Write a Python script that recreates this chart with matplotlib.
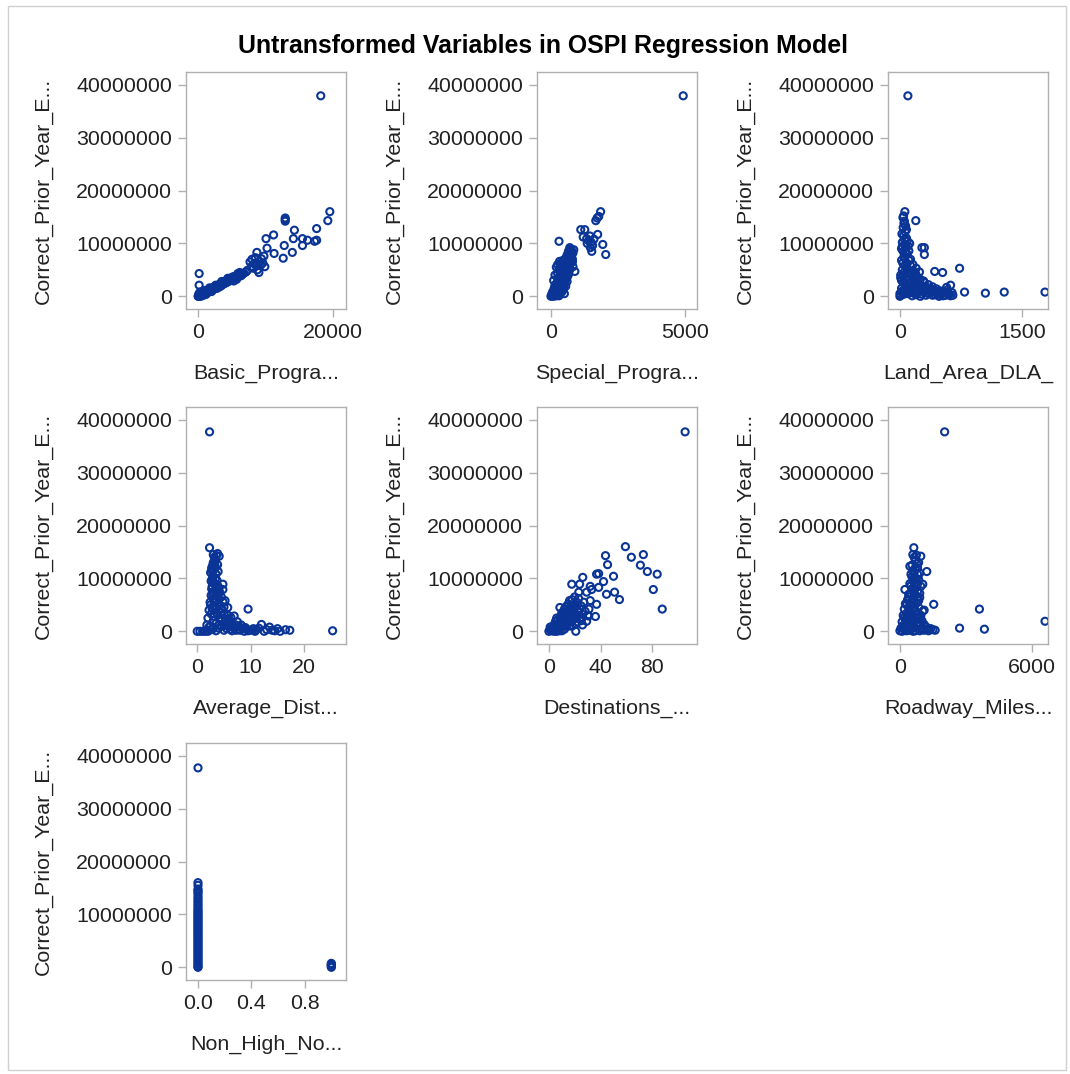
import matplotlib.pyplot as plt
from matplotlib.patches import Rectangle

plt.rcParams['font.family'] = ['Liberation Sans', 'DejaVu Sans']

# (x, y) pairs per predictor; y is Correct_Prior_Year_E... for every panel
basic_pts = [
    (18200, 37.9e6),
    (19550, 16.0e6), (19250, 14.3e6), (17590, 12.8e6), (17590, 10.6e6), (17290, 10.4e6),
    (12930, 14.8e6), (12930, 14.5e6), (12930, 14.2e6), (14290, 12.5e6), (14140, 10.9e6),
    (15490, 10.9e6), (16240, 10.6e6), (15490, 9.6e6), (12780, 9.6e6), (13980, 8.3e6),
    (12630, 7.2e6), (11200, 11.6e6), (10080, 10.9e6), (10230, 9.1e6), (11280, 8.1e6),
    (8720, 8.3e6), (9770, 7.6e6), (9400, 7.1e6), (8500, 7.3e6), (8000, 7.0e6),
    (7700, 6.5e6), (8300, 6.2e6), (9000, 6.6e6), (9600, 6.3e6), (8600, 5.8e6),
    (9300, 5.9e6), (9900, 5.6e6), (7900, 5.6e6), (8200, 5.3e6), (8800, 5.0e6),
    (9020, 4.5e6), (6170, 4.5e6), (5710, 3.8e6), (6600, 4.2e6), (6400, 3.9e6),
    (5900, 4.3e6), (150, 4.3e6), (150, 2.1e6),
    (0, 0.0), (60, 0.15e6), (120, 0.05e6), (180, 0.3e6), (250, 0.1e6), (320, 0.45e6),
    (400, 0.2e6), (480, 0.6e6), (560, 0.35e6), (650, 0.7e6), (750, 0.45e6), (850, 0.85e6),
    (950, 0.6e6), (1050, 1.0e6), (1150, 0.75e6), (1300, 1.1e6), (1400, 0.9e6), (1550, 1.25e6),
    (1650, 1.05e6), (1800, 1.4e6), (1950, 1.2e6), (2100, 1.6e6), (2250, 1.35e6), (2400, 1.75e6),
    (2550, 1.55e6), (2700, 1.95e6), (2850, 1.7e6), (3000, 2.15e6), (3150, 1.9e6), (3300, 2.35e6),
    (3450, 2.1e6), (3600, 2.55e6), (3750, 2.3e6), (3900, 2.75e6), (4050, 2.5e6), (4200, 2.95e6),
    (4350, 2.7e6), (4500, 3.15e6), (4650, 2.9e6), (4800, 3.35e6), (4950, 3.1e6), (5100, 3.5e6),
    (5250, 3.3e6), (5400, 3.65e6), (5550, 3.4e6), (5700, 3.2e6), (5300, 2.9e6), (4400, 3.4e6),
    (3500, 2.8e6), (2600, 2.1e6), (1700, 1.6e6), (900, 1.1e6), (300, 0.8e6), (700, 0.2e6),
    (1200, 0.4e6), (2000, 0.9e6), (100, 0.4e6), (400, 0.0), (200, 0.6e6), (1000, 0.3e6),
    (50, 0.0), (150, 0.2e6), (250, 0.35e6), (350, 0.15e6), (450, 0.4e6), (550, 0.55e6),
    (600, 0.15e6), (700, 0.5e6), (800, 0.7e6), (900, 0.4e6), (1000, 0.8e6), (1100, 0.55e6),
    (1250, 0.9e6), (1350, 0.65e6), (1450, 1.0e6), (1600, 0.85e6), (1750, 1.15e6), (1850, 1.0e6),
    (2000, 1.35e6), (2150, 1.2e6), (2300, 1.5e6), (2450, 1.4e6), (2650, 1.7e6), (2800, 1.5e6),
    (2950, 1.9e6), (3100, 1.75e6), (3250, 2.1e6), (3400, 1.95e6), (3550, 2.3e6), (3700, 2.5e6),
    (3850, 2.45e6), (4000, 2.7e6), (4150, 2.6e6), (4300, 3.0e6), (4450, 2.85e6), (4600, 3.3e6),
    (4750, 3.05e6), (4900, 3.5e6), (5050, 3.25e6), (5200, 3.7e6), (5350, 3.45e6), (5500, 3.8e6),
    (5650, 3.6e6), (5800, 3.9e6), (6000, 3.7e6), (6300, 4.1e6), (6800, 4.4e6), (7100, 4.6e6),
    (7300, 4.9e6),
]

special_pts = [
    (4926, 37.9e6), (1850, 16.0e6), (1780, 15.1e6), (1720, 14.8e6), (1670, 14.3e6),
    (1110, 12.6e6), (1260, 12.6e6), (1740, 11.7e6), (1450, 11.4e6), (1200, 11.2e6),
    (1330, 10.9e6), (1600, 10.8e6), (1400, 10.5e6), (1500, 10.2e6), (1550, 9.6e6),
    (1930, 9.8e6), (1520, 8.5e6), (2040, 7.9e6), (1350, 10.0e6), (1470, 9.2e6),
    (300, 10.4e6), (700, 9.2e6), (780, 8.3e6), (850, 8.8e6), (890, 4.7e6),
    (700, 7.8e6), (750, 7.3e6), (800, 6.5e6), (620, 7.0e6), (720, 6.8e6), (650, 6.0e6),
    (560, 6.3e6), (820, 5.6e6), (600, 5.2e6), (480, 5.5e6), (700, 5.0e6), (550, 4.5e6),
    (420, 4.8e6), (650, 4.1e6), (500, 3.8e6), (350, 4.0e6), (580, 3.3e6), (450, 3.2e6),
    (280, 3.1e6), (600, 2.8e6), (400, 2.6e6), (500, 2.5e6), (200, 2.4e6), (350, 2.1e6),
    (550, 1.9e6), (420, 1.8e6), (300, 1.6e6), (120, 1.5e6), (250, 1.2e6), (450, 1.2e6),
    (350, 1.0e6), (200, 0.9e6), (150, 0.6e6), (350, 0.6e6), (250, 0.5e6), (100, 0.3e6),
    (150, 0.2e6), (50, 0.1e6), (0, 0.0), (300, 0.1e6), (60, 0.8e6), (500, 0.5e6),
    (200, 5.5e6), (250, 6.0e6), (150, 4.0e6), (100, 3.0e6), (380, 5.8e6), (320, 6.6e6),
    (20, 0.3e6), (100, 0.0), (200, 0.1e6), (250, 0.2e6), (80, 0.6e6), (180, 0.4e6),
    (300, 0.4e6), (100, 1.0e6), (220, 0.7e6), (300, 1.1e6), (400, 0.8e6), (150, 1.3e6),
    (380, 1.4e6), (200, 1.7e6), (480, 1.6e6), (260, 2.0e6), (450, 2.2e6), (150, 2.1e6),
    (300, 2.6e6), (520, 2.9e6), (250, 3.4e6), (400, 3.0e6), (350, 3.5e6), (480, 3.4e6),
    (600, 3.6e6), (250, 4.3e6), (450, 4.2e6), (550, 4.0e6), (330, 4.6e6), (500, 4.9e6),
    (620, 4.7e6), (300, 5.2e6), (420, 5.3e6), (550, 5.7e6), (680, 5.5e6), (350, 6.2e6),
    (450, 6.0e6), (600, 6.5e6), (720, 6.2e6), (450, 6.8e6), (550, 7.2e6), (680, 7.5e6),
    (800, 7.0e6), (600, 7.8e6), (750, 8.0e6), (820, 8.2e6), (650, 8.5e6), (760, 8.8e6),
    (720, 9.0e6),
]

land_pts = [
    (98, 37.9e6), (61, 16.0e6), (37, 14.9e6), (195, 14.3e6), (50, 13.8e6), (80, 12.6e6),
    (40, 13.0e6), (65, 12.2e6), (45, 11.5e6), (55, 10.8e6), (30, 10.2e6), (90, 10.5e6),
    (70, 9.5e6), (40, 8.5e6), (90, 8.0e6), (60, 7.2e6), (110, 6.8e6), (35, 6.3e6),
    (20, 9.0e6), (130, 5.8e6), (270, 9.2e6), (300, 9.2e6), (300, 7.9e6), (80, 5.4e6),
    (160, 4.8e6), (50, 4.5e6), (427, 4.7e6), (524, 4.5e6), (732, 5.3e6), (622, 2.1e6),
    (573, 1.7e6), (200, 4.0e6), (100, 3.8e6), (20, 3.0e6), (250, 3.2e6), (150, 2.8e6),
    (300, 2.6e6), (350, 2.2e6), (60, 2.2e6), (200, 2.0e6), (400, 1.8e6), (80, 1.8e6),
    (120, 1.5e6), (450, 1.4e6), (250, 1.2e6), (500, 1.0e6), (30, 1.0e6), (550, 0.8e6),
    (300, 0.8e6), (450, 0.6e6), (100, 0.5e6), (350, 0.5e6), (600, 0.4e6), (200, 0.3e6),
    (500, 0.3e6), (10, 0.2e6), (400, 0.2e6), (560, 0.2e6), (150, 0.1e6), (0, 0.0),
    (250, 0.0), (480, 0.0), (620, 0.1e6), (10, 4.0e6), (150, 3.5e6), (230, 2.5e6),
    (180, 1.0e6), (280, 1.8e6), (330, 1.2e6), (380, 1.0e6), (420, 0.9e6), (520, 0.6e6),
    (580, 1.2e6), (640, 0.7e6),
    (0, 0.5e6), (20, 1.5e6), (40, 2.6e6), (10, 3.5e6), (30, 5.0e6), (60, 5.8e6),
    (20, 6.8e6), (50, 7.5e6), (70, 8.2e6), (30, 9.4e6), (60, 9.8e6), (80, 11.0e6),
    (25, 11.8e6), (70, 13.3e6), (55, 14.2e6), (45, 15.2e6), (90, 6.2e6), (120, 4.4e6),
    (100, 5.0e6), (140, 4.0e6), (180, 3.2e6), (70, 3.4e6), (40, 4.0e6), (120, 2.4e6),
    (170, 2.2e6), (220, 1.6e6), (260, 2.1e6), (100, 1.2e6), (140, 0.7e6), (50, 0.4e6),
    (90, 0.9e6), (180, 0.5e6), (230, 0.8e6), (270, 0.4e6), (320, 0.2e6), (370, 0.8e6),
    (430, 0.3e6), (470, 0.9e6), (530, 0.1e6), (590, 0.8e6), (650, 0.2e6), (330, 1.6e6),
    (290, 2.9e6), (210, 3.6e6), (380, 1.4e6), (420, 1.2e6), (460, 0.4e6), (130, 1.9e6),
    (60, 1.2e6), (20, 0.8e6), (110, 3.0e6), (190, 4.3e6), (240, 4.6e6), (200, 5.3e6),
    (160, 6.0e6), (130, 7.0e6), (110, 8.6e6), (100, 9.5e6), (120, 10.0e6),
    (793, 0.8e6), (1049, 0.6e6), (1280, 0.8e6), (1780, 0.8e6),
]

avgdist_pts = [
    (2.3, 37.7e6), (2.3, 15.8e6), (3.0, 14.5e6), (3.6, 14.3e6), (3.8, 14.7e6), (3.0, 13.0e6),
    (3.3, 12.5e6), (2.7, 12.0e6), (3.1, 11.6e6), (2.5, 11.1e6), (2.9, 10.4e6), (3.4, 10.0e6),
    (2.6, 9.5e6), (3.2, 9.0e6), (4.8, 8.9e6), (3.6, 8.8e6), (2.8, 8.5e6), (4.0, 8.0e6),
    (4.8, 7.9e6), (3.0, 7.5e6), (3.9, 7.0e6), (2.6, 6.8e6), (4.5, 6.5e6), (3.3, 6.2e6),
    (5.2, 5.8e6), (2.4, 5.5e6), (4.0, 5.3e6), (5.7, 4.5e6), (3.0, 4.8e6), (4.6, 4.2e6),
    (2.2, 4.0e6), (9.5, 4.2e6), (6.9, 2.9e6), (3.6, 3.5e6), (5.0, 3.2e6), (2.0, 2.5e6),
    (4.2, 2.6e6), (6.0, 2.2e6), (7.5, 1.8e6), (3.0, 2.0e6), (5.5, 1.5e6), (8.2, 1.2e6),
    (1.8, 1.2e6), (4.5, 1.0e6), (6.8, 0.9e6), (9.0, 0.7e6), (10.5, 0.5e6), (12.0, 1.3e6),
    (11.0, 0.3e6), (13.5, 0.8e6), (14.0, 0.2e6), (15.0, 0.5e6), (16.5, 0.3e6), (17.3, 0.2e6),
    (2.5, 0.3e6), (3.5, 0.1e6), (5.0, 0.2e6), (6.5, 0.1e6), (8.0, 0.2e6), (9.5, 0.1e6),
    (1.5, 0.0), (12.5, 0.0), (25.3, 0.1e6), (0.0, 0.0), (0.5, 0.0), (7.0, 0.5e6),
    (4.0, 0.6e6), (2.2, 0.8e6),
    (2.0, 0.0), (2.5, 1.0e6), (3.0, 0.5e6), (3.5, 1.5e6), (4.0, 1.2e6), (4.5, 2.0e6),
    (5.0, 1.0e6), (5.5, 0.5e6), (6.0, 1.2e6), (3.2, 2.8e6), (2.6, 3.3e6), (3.8, 3.0e6),
    (4.4, 3.5e6), (5.3, 2.3e6), (2.8, 4.3e6), (3.5, 4.5e6), (4.2, 4.9e6), (5.0, 4.6e6),
    (2.5, 5.0e6), (3.3, 5.5e6), (4.8, 5.6e6), (3.0, 6.1e6), (4.0, 6.2e6), (3.6, 6.8e6),
    (2.9, 7.0e6), (4.2, 7.4e6), (3.4, 7.8e6), (2.7, 8.0e6), (3.9, 8.5e6), (3.0, 9.3e6),
    (3.7, 9.6e6), (2.8, 9.9e6), (3.5, 10.8e6), (3.9, 11.3e6), (2.7, 11.5e6), (3.4, 12.0e6),
    (3.8, 12.6e6), (2.9, 12.5e6), (3.4, 13.4e6), (4.1, 14.2e6), (3.2, 14.0e6), (6.5, 1.6e6),
    (7.0, 1.3e6), (7.8, 0.9e6), (8.5, 0.6e6), (9.2, 0.4e6), (10.0, 0.2e6), (11.5, 0.6e6),
    (13.0, 0.3e6), (6.2, 0.4e6), (7.3, 0.2e6), (1.0, 0.0), (8.8, 0.0), (10.8, 0.0),
    (15.5, 0.0), (14.5, 0.1e6), (5.8, 3.0e6), (6.3, 2.6e6),
]

dest_pts = [
    (105.4, 37.7e6), (59.2, 16.0e6), (73.1, 14.5e6), (43.8, 14.3e6), (63.8, 14.0e6),
    (45.4, 12.6e6), (70.8, 12.5e6), (76.2, 11.3e6), (36.9, 10.8e6), (38.5, 10.9e6),
    (83.8, 10.8e6), (50.0, 10.4e6), (26.2, 10.2e6), (42.3, 9.4e6), (17.7, 8.9e6),
    (23.8, 8.9e6), (32.0, 8.5e6), (38.5, 8.3e6), (80.8, 7.9e6), (33.1, 7.9e6),
    (23.1, 7.4e6), (29.2, 7.4e6), (50.8, 7.4e6), (44.6, 7.0e6), (54.6, 6.0e6),
    (36.9, 5.1e6), (8.5, 4.5e6), (87.7, 4.2e6), (31.0, 4.2e6), (30.8, 2.9e6),
    (36.0, 2.8e6), (29.2, 1.9e6), (20.8, 0.0),
    (0, 0.0), (1, 0.3e6), (2, 0.1e6), (3, 0.6e6), (4, 0.3e6), (5, 1.0e6), (6, 0.5e6),
    (7, 1.4e6), (8, 0.8e6), (9, 2.0e6), (10, 1.2e6), (11, 2.6e6), (12, 1.6e6), (13, 3.2e6),
    (14, 2.0e6), (15, 3.8e6), (16, 2.6e6), (17, 4.4e6), (18, 3.0e6), (19, 5.0e6), (20, 3.5e6),
    (21, 5.6e6), (22, 4.0e6), (23, 6.2e6), (24, 2.4e6), (25, 4.8e6), (26, 3.2e6), (27, 5.5e6),
    (10, 3.5e6), (14, 4.8e6), (18, 6.0e6), (6, 2.5e6), (16, 1.0e6), (12, 0.4e6), (8, 0.1e6),
    (22, 1.8e6), (26, 1.2e6), (20, 6.5e6), (28, 3.8e6), (30, 3.0e6), (32, 5.8e6),
    (1, 0.8e6), (2, 0.5e6), (3, 0.2e6), (4, 1.2e6), (5, 0.4e6), (5, 1.8e6), (6, 1.2e6),
    (7, 0.3e6), (7, 2.2e6), (8, 1.6e6), (9, 0.6e6), (9, 2.8e6), (10, 2.3e6), (11, 1.0e6),
    (11, 3.6e6), (12, 2.8e6), (12, 4.2e6), (13, 1.8e6), (13, 4.6e6), (14, 3.5e6), (14, 1.0e6),
    (15, 2.6e6), (15, 5.2e6), (16, 4.2e6), (16, 5.8e6), (17, 3.0e6), (17, 1.8e6), (18, 4.8e6),
    (19, 3.6e6), (19, 2.2e6), (20, 4.6e6), (21, 3.0e6), (21, 1.4e6), (22, 5.0e6), (23, 3.6e6),
    (24, 4.2e6), (25, 2.0e6), (4, 0.0), (6, 0.0), (10, 0.1e6), (12, 1.2e6), (18, 1.0e6),
    (26, 2.6e6), (20, 2.6e6),
]

road_pts = [
    (2030, 37.7e6), (632, 15.8e6), (586, 14.5e6), (947, 14.2e6), (767, 12.8e6), (451, 12.3e6),
    (1218, 11.3e6), (1038, 8.9e6), (226, 7.9e6), (1534, 5.1e6), (1038, 3.8e6), (2707, 0.6e6),
    (3609, 4.2e6), (3835, 0.4e6), (6586, 1.9e6), (1308, 0.4e6),
    (700, 13.5e6), (800, 12.0e6), (600, 11.5e6), (900, 11.0e6), (500, 10.8e6), (650, 10.2e6),
    (850, 9.8e6), (700, 9.3e6), (450, 9.0e6), (950, 8.5e6), (600, 8.2e6), (800, 7.6e6),
    (400, 7.0e6), (700, 6.8e6), (900, 6.4e6), (350, 6.0e6), (550, 5.6e6), (750, 5.3e6),
    (300, 5.0e6), (650, 4.6e6), (1100, 4.0e6), (200, 4.2e6), (450, 3.8e6), (850, 3.3e6),
    (150, 3.0e6), (350, 2.6e6), (600, 2.3e6), (1000, 2.0e6), (100, 1.8e6), (300, 1.5e6),
    (500, 1.2e6), (800, 1.0e6), (1200, 0.8e6), (50, 0.6e6), (200, 0.4e6), (400, 0.2e6),
    (700, 0.1e6), (1000, 0.3e6), (1400, 0.5e6), (1600, 0.2e6), (0, 0.1e6), (250, 2.2e6),
    (550, 3.0e6), (750, 2.7e6), (450, 1.9e6), (900, 1.5e6), (150, 1.1e6), (650, 0.7e6),
    (100, 0.0), (300, 0.1e6), (500, 0.3e6), (600, 0.0), (900, 0.1e6), (1100, 0.2e6),
    (1300, 0.1e6), (1500, 0.3e6), (1200, 0.4e6), (200, 1.0e6), (400, 0.9e6), (600, 1.1e6),
    (1000, 0.7e6), (350, 1.8e6), (550, 1.6e6), (750, 1.5e6), (1100, 1.3e6), (200, 2.6e6),
    (450, 2.8e6), (650, 2.0e6), (900, 2.5e6), (300, 3.4e6), (500, 3.5e6), (700, 3.8e6),
    (950, 3.0e6), (400, 4.4e6), (600, 4.2e6), (850, 4.5e6), (250, 5.2e6), (450, 5.0e6),
    (650, 5.4e6), (850, 5.8e6), (400, 6.5e6), (600, 6.2e6), (800, 6.5e6), (500, 7.2e6),
    (650, 7.6e6), (900, 7.2e6), (550, 8.0e6), (750, 8.5e6), (500, 8.6e6), (800, 9.0e6),
    (600, 9.5e6), (750, 10.0e6), (550, 10.3e6), (800, 10.8e6), (650, 11.2e6), (700, 12.0e6),
    (550, 12.5e6), (850, 13.0e6), (650, 14.0e6), (750, 14.4e6),
]

nonhigh_pts = [
    (0, 37.7e6), (0, 16.0e6), (0, 15.5e6), (0, 14.8e6), (0, 14.5e6), (0, 14.2e6),
    (0, 13.8e6), (0, 13.3e6), (0, 12.9e6), (0, 12.5e6), (0, 12.1e6), (0, 11.7e6),
    (0, 11.3e6), (0, 10.9e6), (0, 10.6e6), (0, 10.3e6), (0, 10.0e6), (0, 9.7e6),
    (0, 9.4e6), (0, 9.1e6), (0, 8.8e6), (0, 8.5e6), (0, 8.2e6), (0, 7.9e6),
    (0, 7.6e6), (0, 7.3e6), (0, 7.0e6), (0, 6.7e6), (0, 6.4e6), (0, 6.1e6),
    (0, 5.8e6), (0, 5.5e6), (0, 5.2e6), (0, 4.9e6), (0, 4.6e6), (0, 4.3e6),
    (0, 4.0e6), (0, 3.7e6), (0, 3.4e6), (0, 3.1e6), (0, 2.8e6), (0, 2.5e6),
    (0, 2.2e6), (0, 1.9e6), (0, 1.6e6), (0, 1.3e6), (0, 1.0e6), (0, 0.7e6),
    (0, 0.4e6), (0, 0.1e6), (0, 0.0),
    (1, 0.0), (1, 0.15e6), (1, 0.3e6), (1, 0.45e6), (1, 0.6e6), (1, 0.75e6),
]

y_label = "Correct_Prior_Year_E..."
y_ticks = [0, 10000000, 20000000, 30000000, 40000000]

panels = [
    (basic_pts, "Basic_Progra...", [0, 20000], ["0", "20000"], (-1800, 21950)),
    (special_pts, "Special_Progra...", [0, 5000], ["0", "5000"], (-520, 5440)),
    (land_pts, "Land_Area_DLA_", [0, 1500], ["0", "1500"], (-146, 1817)),
    (avgdist_pts, "Average_Dist...", [0, 10, 20], ["0", "10", "20"], (-2.1, 27.8)),
    (dest_pts, "Destinations_...", [0, 40, 80], ["0", "40", "80"], (-9.2, 114.6)),
    (road_pts, "Roadway_Miles...", [0, 6000], ["0", "6000"], (-541, 6722)),
    (nonhigh_pts, "Non_High_No...", [0.0, 0.4, 0.8], ["0.0", "0.4", "0.8"], (-0.09, 1.11)),
]

W, H = 1070, 1074
fig = plt.figure(figsize=(W / 100, H / 100), dpi=100)

col_left = [186, 537, 888]
row_top = [72, 407, 743]
pw, ph = 160, 237

frame_col = "#b0b0b0"
text_col = "#222222"
mark_col = "#0a3597"
fs = 15.4

for i, (pts, xlab, xt, xtl, xl) in enumerate(panels):
    r, c = divmod(i, 3)
    ax = fig.add_axes([col_left[c] / W, 1 - (row_top[r] + ph) / H, pw / W, ph / H])
    xs = [p[0] for p in pts]
    ys = [p[1] for p in pts]
    ax.scatter(xs, ys, s=26, facecolors="none", edgecolors=mark_col, linewidths=1.5)
    ax.set_xlim(*xl)
    ax.set_ylim(-2.4e6, 42.4e6)
    ax.set_xticks(xt)
    ax.set_xticklabels(xtl)
    ax.set_yticks(y_ticks)
    ax.set_yticklabels([str(v) for v in y_ticks])
    for s in ax.spines.values():
        s.set_color(frame_col)
        s.set_linewidth(1.0)
    ax.tick_params(length=6, width=1, color=frame_col, labelsize=fs,
                   labelcolor=text_col, pad=4)
    ax.set_xlabel(xlab, fontsize=fs, color=text_col, labelpad=16)
    ax.set_ylabel(y_label, fontsize=fs, color=text_col, labelpad=17)

fig.text(543 / W, 1 - 46 / H, "Untransformed Variables in OSPI Regression Model",
         ha="center", va="center", fontsize=17.9, fontweight="bold", color="#000000")

fig.patches.append(Rectangle((8 / W, 1 - 1070 / H), 1058 / W, 1064 / H,
                             transform=fig.transFigure, fill=False,
                             edgecolor="#d0d0d0", linewidth=1))

fig.savefig("out.png", dpi=100)
